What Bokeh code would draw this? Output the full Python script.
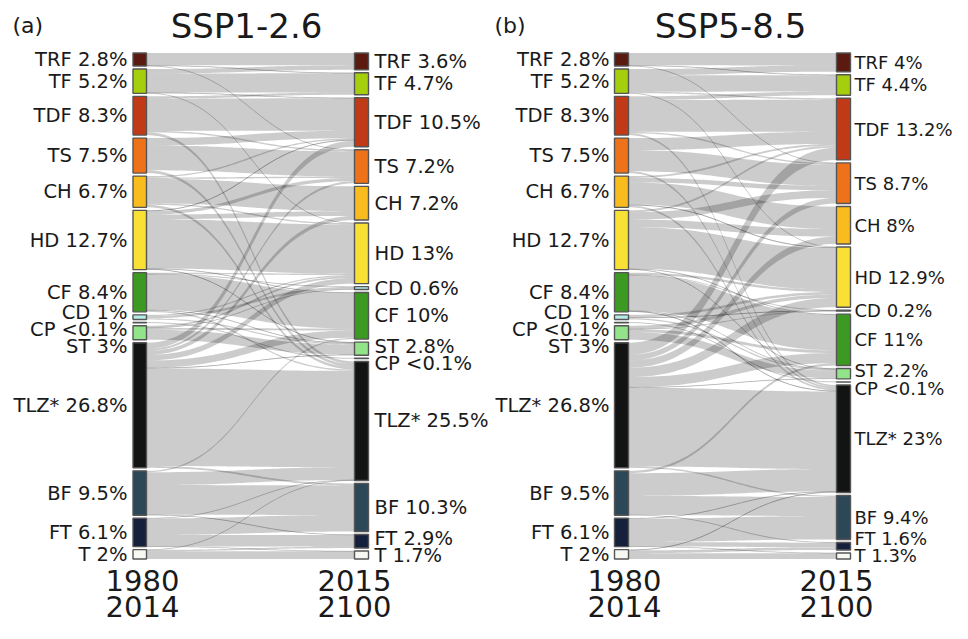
import numpy as np
from bokeh.plotting import figure
from bokeh.models import Range1d
from bokeh.embed import file_html
from bokeh.resources import INLINE
from bokeh.core.properties import value

# ---------------- data ----------------
classes_left = ["TRF", "TF", "TDF", "TS", "CH", "HD", "CF", "CD", "CP", "ST", "TLZ", "BF", "FT", "T"]
classes_right = ["TRF", "TF", "TDF", "TS", "CH", "HD", "CD", "CF", "ST", "CP", "TLZ", "BF", "FT", "T"]

class_colors = {
    "TRF": "#5a1a10", "TF": "#a5cf0c", "TDF": "#c03a17", "TS": "#ee7219",
    "CH": "#f9bc1f", "HD": "#f8e034", "CF": "#3c9a22", "CD": "#b5ebe8",
    "CP": "#ffffff", "ST": "#93e38a", "TLZ": "#121414", "BF": "#2c4858",
    "FT": "#14203c", "T": "#f8f8f3",
}

# 1980-2014 shares (left column, classes_left order)
pct_hist = [2.8, 5.2, 8.3, 7.5, 6.7, 12.7, 8.4, 1.0, 0.05, 3.0, 26.8, 9.5, 6.1, 2.0]
lab_hist = ["2.8%", "5.2%", "8.3%", "7.5%", "6.7%", "12.7%", "8.4%", "1%", "<0.1%", "3%", "26.8%", "9.5%", "6.1%", "2%"]

# 2015-2100 shares (right column, classes_right order)
pct_126 = [3.6, 4.7, 10.5, 7.2, 7.2, 13.0, 0.6, 10.0, 2.8, 0.05, 25.5, 10.3, 2.9, 1.7]
lab_126 = ["3.6%", "4.7%", "10.5%", "7.2%", "7.2%", "13%", "0.6%", "10%", "2.8%", "<0.1%", "25.5%", "10.3%", "2.9%", "1.7%"]
pct_585 = [4.0, 4.4, 13.2, 8.7, 8.0, 12.9, 0.2, 11.0, 2.2, 0.05, 23.0, 9.4, 1.6, 1.3]
lab_585 = ["4%", "4.4%", "13.2%", "8.7%", "8%", "12.9%", "0.2%", "11%", "2.2%", "<0.1%", "23%", "9.4%", "1.6%", "1.3%"]

# class transitions (% of area); persistence is the remainder
src_126 = ["TF", "TRF", "TRF", "TF", "TF", "TDF", "TDF", "TDF", "TS", "TS", "CH", "CH", "CH", "CH",
           "HD", "HD", "HD", "HD", "HD", "CF", "CF", "CF", "CF", "CD", "CD", "ST", "ST", "ST",
           "TLZ", "TLZ", "TLZ", "TLZ", "TLZ", "TLZ", "TLZ", "BF", "BF", "BF", "FT", "FT", "FT", "T", "T"]
tgt_126 = ["TRF", "TF", "TS", "TDF", "HD", "TF", "TS", "TLZ", "TDF", "TLZ", "TS", "TDF", "HD", "TLZ",
           "CH", "TS", "TDF", "ST", "CF", "HD", "TLZ", "ST", "CD", "HD", "ST", "CD", "CF", "HD",
           "TDF", "TS", "CH", "HD", "CF", "ST", "BF", "TLZ", "CF", "FT", "BF", "T", "TLZ", "FT", "TLZ"]
val_126 = [0.95, 0.1, 0.05, 0.1, 0.05, 0.5, 0.3, 0.6, 1.6, 0.6, 0.3, 0.3, 0.3, 0.55,
           1.0, 0.7, 0.2, 0.15, 0.1, 0.3, 0.3, 0.1, 0.05, 0.25, 0.25, 0.05, 0.4, 0.4,
           1.3, 0.45, 0.85, 1.2, 1.55, 0.15, 0.4, 2.75, 0.3, 0.1, 3.55, 0.05, 0.05, 0.3, 0.05]

src_585 = ["TF", "TRF", "TRF", "TF", "TF", "TDF", "TDF", "TDF", "TS", "TS", "CH", "CH", "CH", "CH",
           "HD", "HD", "HD", "HD", "HD", "CF", "CF", "CF", "CF", "CD", "CD", "ST", "ST", "ST",
           "TLZ", "TLZ", "TLZ", "TLZ", "TLZ", "TLZ", "TLZ", "BF", "BF", "BF", "FT", "FT", "FT", "T", "T"]
tgt_585 = ["TRF", "TF", "TS", "TDF", "HD", "TF", "TS", "TLZ", "TDF", "TLZ", "TS", "TDF", "HD", "TLZ",
           "CH", "TS", "TDF", "ST", "CF", "HD", "TLZ", "ST", "CD", "HD", "ST", "CD", "CF", "HD",
           "TDF", "TS", "CH", "HD", "CF", "ST", "BF", "TLZ", "CF", "FT", "BF", "T", "TLZ", "FT", "TLZ"]
val_585 = [1.35, 0.1, 0.05, 0.3, 0.05, 0.8, 0.3, 0.4, 2.6, 0.4, 0.95, 0.4, 0.2, 0.4,
           1.6, 1.6, 0.4, 0.1, 0.1, 0.5, 0.2, 0.05, 0.02, 0.54, 0.3, 0.02, 0.6, 0.73,
           2.6, 1.2, 1.55, 2.0, 2.17, 0.1, 0.3, 4.87, 0.5, 0.05, 5.0, 0.05, 0.1, 0.6, 0.15]

titles = ["SSP1-2.6", "SSP5-8.5"]
tags = ["(a)", "(b)"]
years_left = ["1980", "2014"]
years_right = ["2015", "2100"]

# ---------------- layout / style ----------------
W, H = 952, 623
TOP, HEIGHT, GAP = 52.5, 506.0, 3.0
LABEL_MAX_Y = 555.0
FONT = value("DejaVu Sans")
TXT = "#1a1a1a"
panels = [
    dict(xl0=132.5, xl1=146, xr0=354, xr1=368, lab_l=127, lab_r=374, rsize="19.5px",
         title_x=246, tag_x=12, yl=142, yr=354),
    dict(xl0=614, xl1=628, xr0=836, xr1=850, lab_l=609, lab_r=854, rsize="18px",
         title_x=730, tag_x=494, yl=624, yr=836),
]

p = figure(width=W, height=H, x_range=Range1d(0, W), y_range=Range1d(H, 0),
           output_backend="svg", toolbar_location=None, x_axis_location=None,
           y_axis_location=None, min_border=0, outline_line_color=None)
p.xgrid.visible = False
p.ygrid.visible = False
p.background_fill_color = "white"


def stack(vals):
    scale = (HEIGHT - GAP * (len(vals) - 1)) / sum(vals)
    out, y = [], TOP
    for v in vals:
        h = v * scale
        out.append((y, y + h))
        y += h + GAP
    return out, scale


def spread(centers, sep):
    ys = list(centers)
    for _ in range(400):
        moved = False
        for k in range(len(ys) - 1):
            d = ys[k + 1] - ys[k]
            if d < sep - 1e-6:
                s = (sep - d)
                ys[k] -= 0.3 * s
                ys[k + 1] += 0.7 * s
                moved = True
        if not moved:
            break
    # keep the lowest labels clear of the year captions
    ys[-1] = min(ys[-1], LABEL_MAX_Y)
    for k in range(len(ys) - 2, -1, -1):
        ys[k] = min(ys[k], ys[k + 1] - sep)
    return ys


def band(xa, xb, ya0, ya1, yb0, yb1, n=48):
    t = np.linspace(0, 1, n)
    xm = (xa + xb) / 2
    x = (1 - t) ** 3 * xa + 3 * (1 - t) ** 2 * t * xm + 3 * (1 - t) * t ** 2 * xm + t ** 3 * xb
    h0 = 3 * (1 - t) * t ** 2 + t ** 3
    top = ya0 + (yb0 - ya0) * h0
    bot = ya1 + (yb1 - ya1) * h0
    return list(x) + list(x[::-1]), list(top) + list(bot[::-1]), list(x), list((top + bot) / 2)


def draw_panel(k, right_vals, right_labs, src, tgt, val):
    L = panels[k]
    left_pos, sc = stack(pct_hist)
    right_pos, _ = stack(right_vals)
    flows = list(zip(src, tgt, val))
    for i, c in enumerate(classes_left):
        out = sum(v for s, t, v in flows if s == c)
        flows.append((c, c, pct_hist[i] - out))
    lpos = {}
    for i, c in enumerate(classes_left):
        outs = sorted([f for f in flows if f[0] == c], key=lambda f: classes_right.index(f[1]))
        y = left_pos[i][0]
        for f in outs:
            lpos[f] = (y, y + f[2] * sc)
            y += f[2] * sc
    rpos = {}
    for j, c in enumerate(classes_right):
        ins = sorted([f for f in flows if f[1] == c], key=lambda f: classes_left.index(f[0]))
        tot = sum(f[2] for f in ins)
        y0, y1 = right_pos[j]
        fac = (y1 - y0) / tot if tot > 0 else 0
        y = y0
        for f in ins:
            rpos[f] = (y, y + f[2] * fac)
            y += f[2] * fac
    xs, ys, lx, ly = [], [], [], []
    for f in flows:
        a0, a1 = lpos[f]
        b0, b1 = rpos[f]
        bx, by, cx, cy = band(L["xl1"], L["xr0"], a0, a1, b0, b1)
        xs.append(bx)
        ys.append(by)
        if (a1 - a0) < 1.0:
            lx.append(cx)
            ly.append(cy)
    p.patches(xs, ys, fill_color="black", fill_alpha=0.2, line_color=None)
    p.multi_line(lx, ly, line_color="black", line_alpha=0.2, line_width=0.9)

    p.quad(left=[L["xl0"]] * len(classes_left), right=[L["xl1"]] * len(classes_left),
           top=[a for a, b in left_pos], bottom=[b for a, b in left_pos],
           fill_color=[class_colors[c] for c in classes_left], line_color="#555555", line_width=1.4)
    p.quad(left=[L["xr0"]] * len(classes_right), right=[L["xr1"]] * len(classes_right),
           top=[a for a, b in right_pos], bottom=[b for a, b in right_pos],
           fill_color=[class_colors[c] for c in classes_right], line_color="#555555", line_width=1.4)

    name = lambda c: "TLZ*" if c == "TLZ" else c
    ly_l = spread([(a + b) / 2 for a, b in left_pos], 17.0)
    p.text(x=[L["lab_l"]] * len(classes_left), y=ly_l,
           text=[f"{name(c)} {t}" for c, t in zip(classes_left, lab_hist)],
           text_align="right", text_baseline="middle", text_font=FONT,
           text_font_size=value("19.5px"), text_color=TXT)
    ly_r = spread([(a + b) / 2 for a, b in right_pos], 17.5)
    p.text(x=[L["lab_r"]] * len(classes_right), y=ly_r,
           text=[f"{name(c)} {t}" for c, t in zip(classes_right, right_labs)],
           text_align="left", text_baseline="middle", text_font=FONT,
           text_font_size=value(L["rsize"]), text_color=TXT)

    p.text(x=[L["title_x"]], y=[25], text=[titles[k]], text_align="center", text_baseline="middle",
           text_font=FONT, text_font_size=value("34px"), text_color=TXT)
    p.text(x=[L["tag_x"]], y=[25], text=[tags[k]], text_align="left", text_baseline="middle",
           text_font=FONT, text_font_size=value("22px"), text_color=TXT)
    p.text(x=[L["yl"], L["yl"]], y=[580, 606], text=years_left, text_align="center",
           text_baseline="middle", text_font=FONT, text_font_size=value("29px"), text_color=TXT)
    p.text(x=[L["yr"], L["yr"]], y=[580, 606], text=years_right, text_align="center",
           text_baseline="middle", text_font=FONT, text_font_size=value("29px"), text_color=TXT)


draw_panel(0, pct_126, lab_126, src_126, tgt_126, val_126)
draw_panel(1, pct_585, lab_585, src_585, tgt_585, val_585)

open("out.html", "w").write(file_html(p, INLINE, title="Sankey"))
